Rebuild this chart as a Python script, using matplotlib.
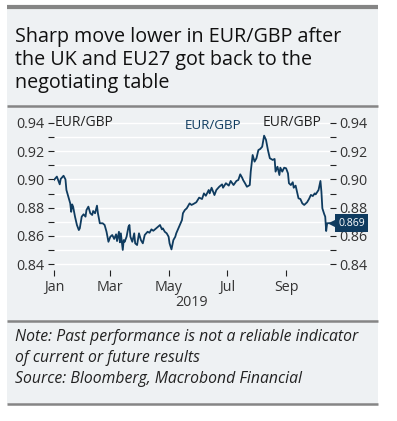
import matplotlib
matplotlib.use("Agg")
import matplotlib.pyplot as plt
from matplotlib.patches import Rectangle
from matplotlib.lines import Line2D
import matplotlib.transforms as mtransforms
from matplotlib.ticker import MultipleLocator, FormatStrFormatter
import pandas as pd

# EUR/GBP 2019 (day = days after 1 Jan 2019)
day = [0, 3, 6, 7, 10, 12, 13, 15, 17, 18, 19, 20, 22, 24, 26, 27, 29, 31, 33, 34,
       36, 38, 40, 41, 43, 45, 46, 48, 51, 53, 55, 57, 59, 61, 63, 65, 66, 68, 69, 70,
       72, 73, 74, 76, 78, 79, 80, 82, 84, 85, 87, 89, 91, 93, 95, 98, 100, 102, 104, 107,
       109, 111, 113, 114, 116, 118, 120, 121, 123, 125, 127, 128, 131, 134, 135, 137, 139, 141, 142, 144,
       146, 149, 152, 155, 157, 159, 162, 163, 165, 168, 170, 173, 176, 177, 180, 183, 185, 188, 191, 193,
       195, 197, 198, 200, 202, 205, 206, 208, 210, 212, 214, 216, 218, 220, 222, 224, 226, 229, 231, 232,
       234, 236, 237, 239, 241, 243, 245, 246, 248, 250, 251, 253, 254, 256, 258, 260, 262, 265, 267, 269,
       271, 273, 274, 277, 279, 280, 281, 283, 284, 285, 286, 288]
eurgbp = [0.8996, 0.9020, 0.8965, 0.9003, 0.9026, 0.9000, 0.8925, 0.8877, 0.8830, 0.8770,
          0.8823, 0.8807, 0.8736, 0.8677, 0.8641, 0.8653, 0.8736, 0.8753, 0.8736, 0.8783,
          0.8807, 0.8760, 0.8748, 0.8776, 0.8760, 0.8814, 0.8760, 0.8689, 0.8689, 0.8677,
          0.8629, 0.8558, 0.8594, 0.8606, 0.8578, 0.8611, 0.8563, 0.8629, 0.8554, 0.8618,
          0.8500, 0.8570, 0.8558, 0.8594, 0.8665, 0.8677, 0.8594, 0.8558, 0.8618, 0.8547,
          0.8535, 0.8618, 0.8570, 0.8547, 0.8606, 0.8629, 0.8622, 0.8646, 0.8636, 0.8653,
          0.8665, 0.8677, 0.8646, 0.8653, 0.8629, 0.8618, 0.8594, 0.8547, 0.8504, 0.8570,
          0.8594, 0.8618, 0.8665, 0.8712, 0.8760, 0.8783, 0.8795, 0.8819, 0.8830, 0.8819,
          0.8826, 0.8838, 0.8871, 0.8861, 0.8901, 0.8884, 0.8925, 0.8901, 0.8941, 0.8889,
          0.8925, 0.8948, 0.8965, 0.8941, 0.8973, 0.8956, 0.8989, 0.8960, 0.8989, 0.8996,
          0.9036, 0.9012, 0.8996, 0.8973, 0.8948, 0.8960, 0.9055, 0.9173, 0.9126, 0.9150,
          0.9208, 0.9216, 0.9232, 0.9310, 0.9280, 0.9208, 0.9150, 0.9138, 0.9145, 0.9055,
          0.9090, 0.9031, 0.9083, 0.9055, 0.9083, 0.9079, 0.9043, 0.8973, 0.8960, 0.8980,
          0.8941, 0.8956, 0.8925, 0.8866, 0.8861, 0.8830, 0.8819, 0.8838, 0.8861, 0.8890,
          0.8882, 0.8901, 0.8894, 0.8925, 0.8989, 0.8913, 0.8795, 0.8753, 0.8736, 0.8634,
          0.8689, 0.8690]
last_value = 0.869

month_ticks = ["2019-01-01", "2019-03-01", "2019-05-01", "2019-07-01", "2019-09-01"]
month_labels = ["Jan", "Mar", "May", "Jul", "Sep"]

title = "Sharp move lower in EUR/GBP after\nthe UK and EU27 got back to the\nnegotiating table"
note = ["Note: Past performance is not a reliable indicator",
        "of current or future results",
        "Source: Bloomberg, Macrobond Financial"]

W, H = 397, 421
NAVY = "#0f3b5f"
PANEL = "#eef1f3"
RULE = "#858585"
TXT = "#222222"

plt.rcParams['font.family'] = ['Open Sans', 'DejaVu Sans']

fig = plt.figure(figsize=(W / 100, H / 100), dpi=100)
fig.patch.set_facecolor("white")


def fx(px):
    return px / W


def fy(py):
    return 1 - py / H


# panel background and rules
fig.patches.append(Rectangle((fx(7), fy(404)), fx(378) - fx(7), fy(7) - fy(404),
                             transform=fig.transFigure, facecolor=PANEL,
                             edgecolor="none", zorder=-5))
for py, lw in [(7, 3.0), (105.5, 1.8), (321, 1.8), (404, 1.8)]:
    fig.lines.append(Line2D([fx(7), fx(378)], [fy(py), fy(py)], transform=fig.transFigure,
                            color=RULE, linewidth=lw, solid_capstyle="butt", zorder=-4))

fig.text(fx(15), fy(27), title, ha="left", va="top", fontsize=14.2,
         color="#111111", linespacing=1.2)

for i, line in enumerate(note):
    fig.text(fx(15), fy(337 + 21 * i), line, ha="left", va="center", fontsize=11.3,
             style="italic", color=TXT)

ax = fig.add_axes([fx(54), fy(270), fx(330) - fx(54), fy(120) - fy(270)])
ax.set_facecolor(PANEL)
for s in ax.spines.values():
    s.set_visible(False)

x = pd.Timestamp("2019-01-01") + pd.to_timedelta(day, unit="D")
ax.plot(x, eurgbp, color=NAVY, linewidth=1.3, zorder=3)

ax.set_xlim(pd.Timestamp("2019-01-01"), pd.Timestamp("2019-10-17"))
ax.set_ylim(0.8358, 0.9421)

ax.yaxis.set_major_locator(MultipleLocator(0.02))
ax.yaxis.set_minor_locator(MultipleLocator(0.01))
ax.yaxis.set_major_formatter(FormatStrFormatter("%.2f"))
ax.grid(True, which="both", axis="y", color="white", linewidth=1.0, zorder=1)
ax.tick_params(axis="y", which="both", left=True, right=True, labelleft=True,
               labelright=True, length=4, width=0.8, color=TXT, labelsize=10.3,
               labelcolor="#333333", pad=3)

ax.set_xticks(pd.to_datetime(month_ticks))
ax.set_xticklabels(month_labels)
ax.tick_params(axis="x", length=4, width=0.8, color=TXT, labelsize=10.3,
               labelcolor="#333333", pad=3)
ax.set_xlabel("2019", fontsize=10.3, color="#333333", labelpad=0)

tr = mtransforms.blended_transform_factory(ax.transAxes, ax.transData)
ax.text(0.004, 0.94, "EUR/GBP", transform=tr, ha="left", va="center",
        fontsize=10, color=TXT)
ax.text(0.971, 0.94, "EUR/GBP", transform=tr, ha="right", va="center",
        fontsize=10, color=TXT)
ax.text(0.575, 0.938, "EUR/GBP", transform=tr, ha="center", va="center",
        fontsize=9.6, color=NAVY)

# last value tag
ax.plot([1.013], [last_value], marker="<", markersize=6.5, color=NAVY,
        transform=tr, clip_on=False, zorder=5)
ax.text(1.03, last_value, f"{last_value:.3f}", transform=tr, ha="left", va="center",
        fontsize=7.6, color="white", zorder=6, clip_on=False,
        bbox=dict(boxstyle="square,pad=0.3", facecolor=NAVY, edgecolor="none"))

fig.savefig("out.png", dpi=100, facecolor="white")
